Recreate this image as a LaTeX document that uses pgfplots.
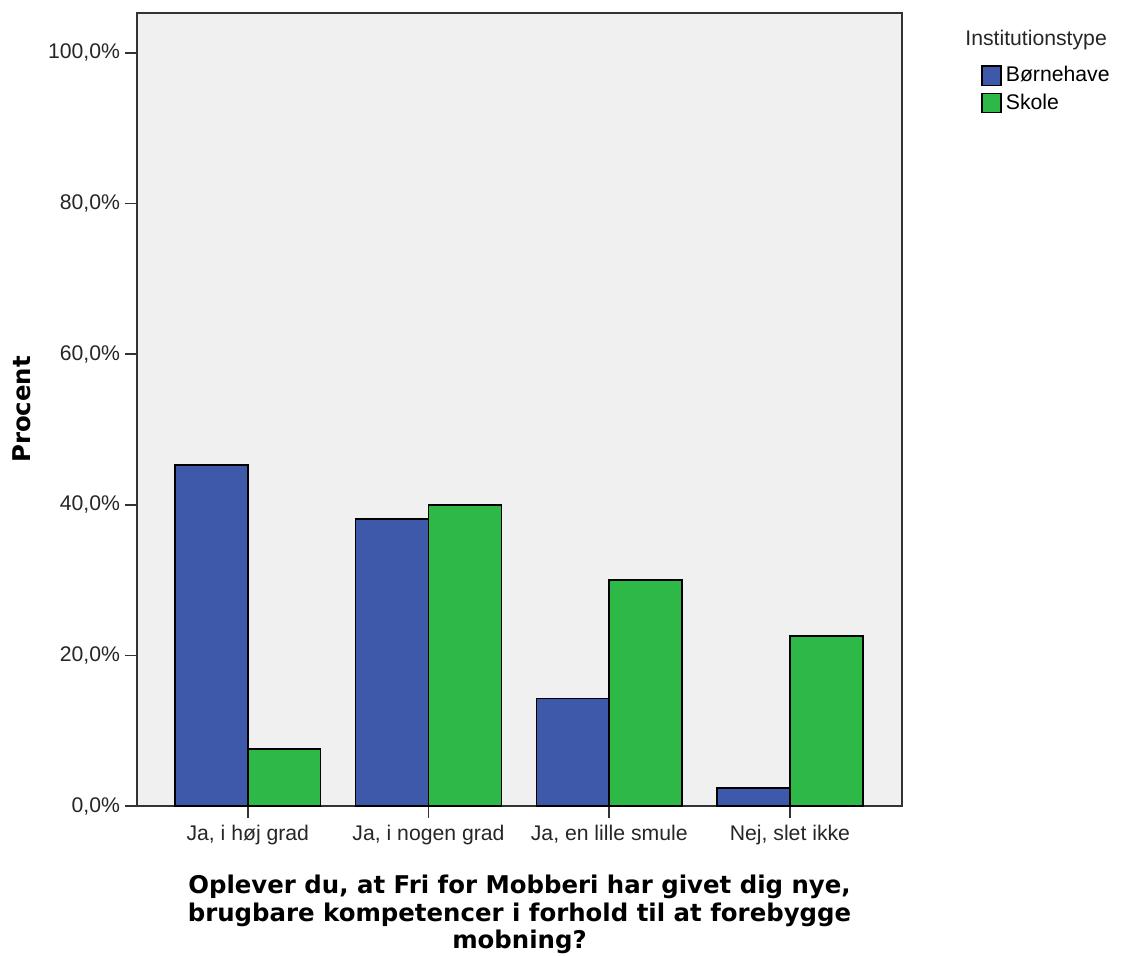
\documentclass[border=0pt]{standalone}
\usepackage{pgfplots}
\pgfplotsset{compat=1.18}
\usepackage{fontspec}
\setmainfont{Liberation Sans}
\newfontfamily\boldlab{DejaVu Sans}
\definecolor{bblue}{RGB}{62,88,170}
\definecolor{sgreen}{RGB}{46,184,72}
\definecolor{bggray}{RGB}{240,240,240}
\begin{document}
\begin{tikzpicture}
\begin{axis}[
  at={(68.5pt,74.5pt)}, anchor=south west,
  scale only axis, width=382.5pt, height=396.5pt,
  xmin=-0.613, xmax=3.62, ymin=0, ymax=105.3,
  axis background/.style={fill=bggray},
  axis line style={black!80, line width=0.75pt},
  tick style={black!80, line width=0.75pt},
  tick align=outside, major tick length=6pt,
  xtick pos=left, ytick pos=left,
  xtick={0,1,2,3},
  xticklabels={{Ja, i høj grad},{Ja, i nogen grad},{Ja, en lille smule},{Nej, slet ikke}},
  ytick={0,20,40,60,80,100},
  yticklabels={{0,0\%},{20,0\%},{40,0\%},{60,0\%},{80,0\%},{100,0\%}},
  ticklabel style={font=\fontsize{10.6}{12.5}\selectfont, text=black!85},
  yticklabel style={xshift=1pt},
  ylabel={Procent},
  ylabel style={at={(axis description cs:-0.150,0.5)}, anchor=center, font=\fontsize{12.2}{15}\boldlab\bfseries},
  xlabel={Oplever du, at Fri for Mobberi har givet dig nye,\\brugbare kompetencer i forhold til at forebygge\\mobning?},
  xlabel style={at={(axis description cs:0.5,-0.137)}, anchor=center, align=center, font=\fontsize{12.2}{13.7}\boldlab\bfseries},
  legend style={at={(rel axis cs:1.103,0.938)}, anchor=north west, draw=none, fill=none,
    font=\fontsize{10.6}{12.5}\selectfont, row sep=0.4pt, inner sep=0pt,
    /tikz/every even column/.append style={column sep=0pt}},
  legend cell align=left,
  legend image code/.code={\draw[#1, line width=0.75pt] (0pt,-4.8pt) rectangle (9.6pt,4.8pt);},
]
\addplot[ybar, bar width=0.403, bar shift=-0.2015, fill=bblue, draw=black, line width=0.75pt]
  coordinates {(0,45.3) (1,38.1) (2,14.3) (3,2.4)};
\addlegendentry{Børnehave}
\addplot[ybar, bar width=0.403, bar shift=0.2015, fill=sgreen, draw=black, line width=0.75pt]
  coordinates {(0,7.6) (1,40.0) (2,30.0) (3,22.6)};
\addlegendentry{Skole}
\end{axis}
\node[anchor=west, inner sep=0pt, font=\fontsize{10.6}{12.5}\selectfont, text=black!85] at (482.5pt,457.5pt) {Institutionstype};
\pgfresetboundingbox
\useasboundingbox (0,0) rectangle (565pt,477.5pt);
\end{tikzpicture}
\end{document}
